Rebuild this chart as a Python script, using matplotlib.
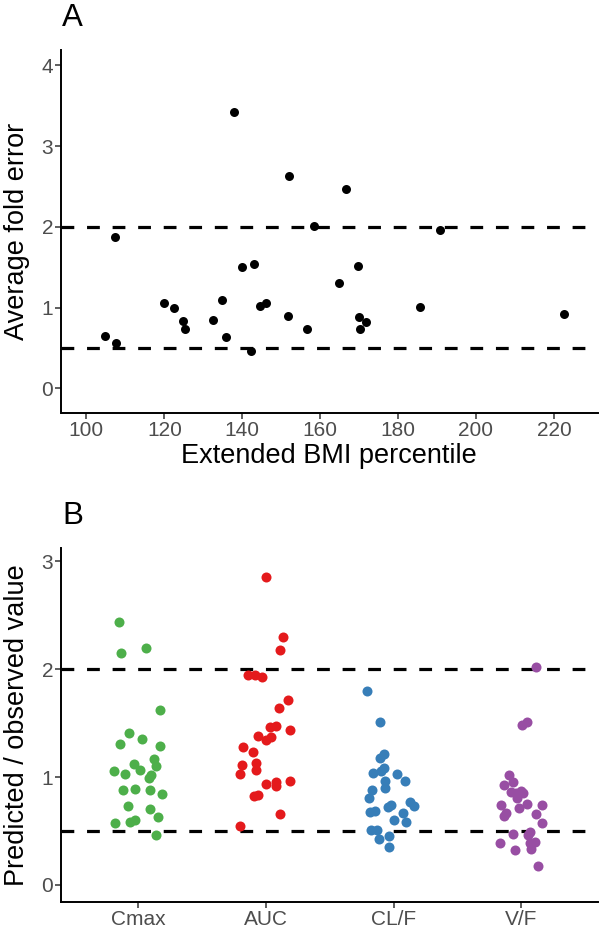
import numpy as np
import matplotlib
matplotlib.use('Agg')
import matplotlib.pyplot as plt

plt.rcParams['font.family'] = ['Liberation Sans', 'DejaVu Sans']

# Panel A: extended BMI percentile vs average fold error
bmi_pct = [137.9, 152.1, 158.4, 107.4, 140.0, 142.9, 164.8, 119.9, 122.5, 134.7,
           144.5, 146.2, 124.9, 125.3, 132.4, 151.7, 156.7, 104.7, 107.7, 135.8,
           142.2, 166.7, 190.8, 169.8, 185.7, 222.5, 169.9, 171.7, 170.3]
fold_err = [3.42, 2.63, 2.01, 1.87, 1.50, 1.54, 1.30, 1.06, 1.00, 1.10,
            1.02, 1.06, 0.83, 0.73, 0.85, 0.90, 0.73, 0.65, 0.56, 0.64,
            0.46, 2.47, 1.96, 1.52, 1.01, 0.92, 0.89, 0.82, 0.73]

# Panel B: predicted / observed ratio per parameter
params = ['Cmax', 'AUC', 'CL/F', 'V/F']
colors = ['#4DAF4A', '#E41A1C', '#377EB8', '#984EA3']

cmax = [2.44, 2.15, 2.20, 1.62, 1.41, 1.31, 1.35, 1.29, 1.17, 1.12, 1.10, 1.06, 1.03, 1.07,
        1.02, 0.99, 0.88, 0.89, 0.88, 0.84, 0.73, 0.70, 0.63, 0.57, 0.58, 0.60, 0.46]
auc = [2.85, 2.30, 2.18, 1.95, 1.95, 1.93, 1.71, 1.64, 1.46, 1.47, 1.44, 1.38, 1.34, 1.37,
       1.28, 1.23, 1.13, 1.11, 1.07, 1.03, 0.94, 0.95, 0.92, 0.96, 0.82, 0.83, 0.66, 0.55]
clf = [1.80, 1.51, 1.18, 1.21, 1.04, 1.06, 1.08, 1.03, 0.96, 0.96, 0.90, 0.88, 0.81, 0.77,
       0.73, 0.72, 0.74, 0.68, 0.69, 0.67, 0.60, 0.58, 0.51, 0.51, 0.45, 0.43, 0.35]
vf = [2.02, 1.48, 1.51, 1.02, 0.93, 0.95, 0.86, 0.85, 0.87, 0.85, 0.81, 0.75, 0.71, 0.74,
      0.74, 0.67, 0.64, 0.66, 0.57, 0.49, 0.47, 0.46, 0.40, 0.39, 0.39, 0.33, 0.32, 0.18]

# horizontal jitter (fraction of category spacing)
jit_cmax = [-0.153, -0.135, 0.064, 0.169, -0.075, -0.143, 0.027, 0.174, 0.124, -0.035, 0.140,
            -0.192, -0.103, 0.017, 0.100, 0.085, -0.116, -0.027, 0.090, 0.190, -0.077, 0.096,
            0.153, -0.179, -0.067, -0.027, 0.137]
jit_auc = [0.0, 0.132, 0.111, -0.137, -0.088, -0.033, 0.174, 0.106, 0.030, 0.082, 0.187,
           -0.064, 0.0, 0.040, -0.179, -0.100, -0.077, -0.184, -0.075, -0.202, 0.0, 0.077,
           0.080, 0.187, -0.096, -0.064, 0.111, -0.2]
jit_clf = [-0.205, -0.108, -0.108, -0.072, -0.161, -0.096, -0.077, 0.030, 0.090, -0.067,
           -0.069, -0.166, -0.192, 0.127, 0.158, -0.045, -0.022, -0.184, -0.148, 0.075,
           0.006, 0.098, -0.176, -0.129, -0.038, -0.116, -0.033]
jit_vf = [0.115, 0.008, 0.045, -0.1, -0.133, -0.068, -0.081, -0.039, -0.002, 0.013, -0.031,
          0.042, -0.016, 0.162, -0.157, -0.120, -0.133, 0.118, 0.162, 0.071, -0.065, 0.053,
          0.110, 0.071, -0.167, 0.078, -0.053, 0.13]

ratios = [cmax, auc, clf, vf]
jitters = [jit_cmax, jit_auc, jit_clf, jit_vf]

tick_col = '#4D4D4D'
title_fs = 19.5
tick_fs = 15


def style_axes(ax):
    for s in ['top', 'right']:
        ax.spines[s].set_visible(False)
    for s in ['left', 'bottom']:
        ax.spines[s].set_linewidth(1.4)
        ax.spines[s].set_color('black')
    ax.tick_params(axis='both', length=4, width=1.1, color='#333333',
                   labelsize=tick_fs, labelcolor=tick_col, pad=2)


fig = plt.figure(figsize=(6, 9.36), dpi=100)

# ---- Panel A ----
axA = fig.add_axes([0.1025, 0.5591, 0.8940, 0.3875])
axA.axhline(2, color='black', lw=2.3, ls=(0, (4, 4)), zorder=1)
axA.axhline(0.5, color='black', lw=2.3, ls=(0, (4, 4)), zorder=1)
axA.scatter(bmi_pct, fold_err, s=42, color='black', linewidths=0, zorder=3)
axA.set_xlim(93.6, 231.3)
axA.set_ylim(-0.30, 4.19)
axA.set_xticks([100, 120, 140, 160, 180, 200, 220])
axA.set_yticks([0, 1, 2, 3, 4])
axA.set_xlabel('Extended BMI percentile', fontsize=title_fs)
axA.set_ylabel('Average fold error', fontsize=title_fs)
axA.xaxis.set_label_coords(0.4986, -0.083)
axA.yaxis.set_label_coords(-0.058, 0.5)
style_axes(axA)
fig.text(72.5 / 600, 1 - 18 / 936, 'A', fontsize=22.5, ha='center', va='center')

# ---- Panel B ----
axB = fig.add_axes([0.1025, 0.0363, 0.8940, 0.3779])
axB.axhline(2, color='black', lw=2.3, ls=(0, (4, 4)), zorder=1)
axB.axhline(0.5, color='black', lw=2.3, ls=(0, (4, 4)), zorder=1)
for i, (vals, jit, col) in enumerate(zip(ratios, jitters, colors)):
    xs = np.array(jit) + i + 1
    axB.scatter(xs, vals, s=52, color=col, linewidths=0, zorder=3)
axB.set_xlim(0.4, 4.6)
axB.set_ylim(-0.158, 3.12)
axB.set_xticks([1, 2, 3, 4])
axB.set_xticklabels(params)
axB.set_yticks([0, 1, 2, 3])
axB.set_ylabel('Predicted / observed value', fontsize=title_fs)
axB.yaxis.set_label_coords(-0.058, 0.5)
style_axes(axB)
fig.text(72.5 / 600, 1 - 516 / 936, 'B', fontsize=22.5, ha='center', va='center')

fig.savefig('out.png', dpi=100)
